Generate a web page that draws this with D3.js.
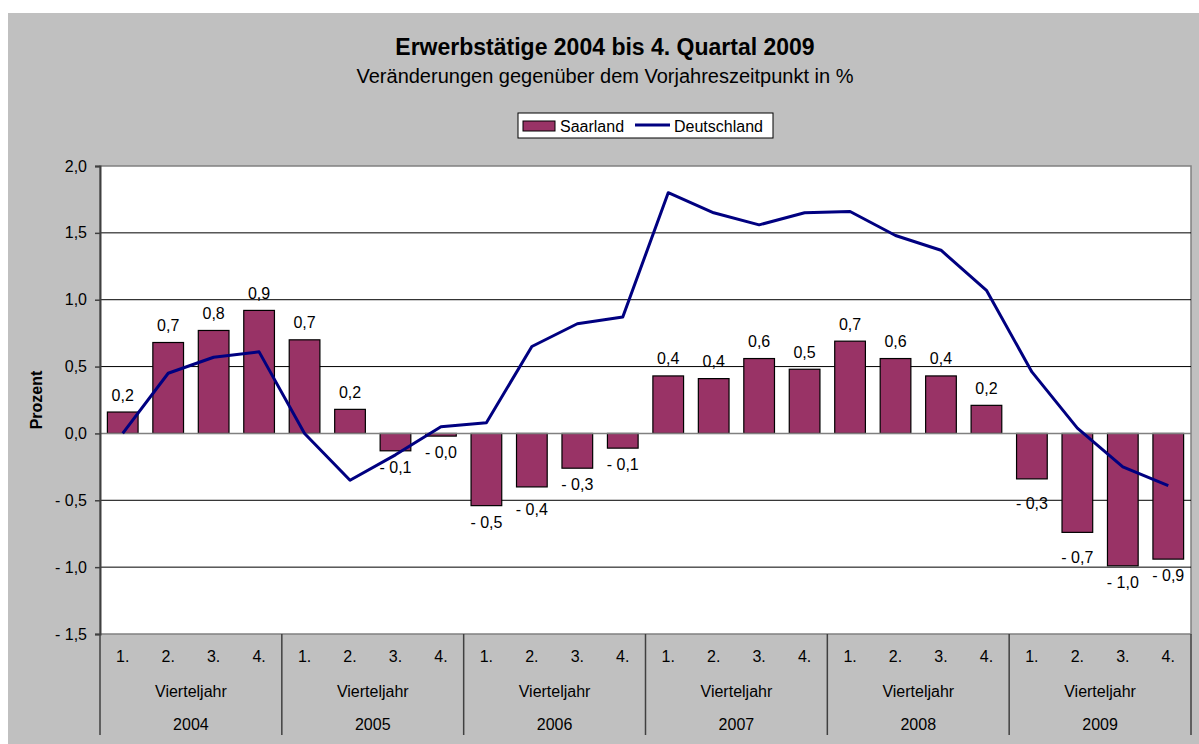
<!DOCTYPE html>
<html>
<head>
<meta charset="utf-8">
<script src="https://cdn.jsdelivr.net/npm/d3@7"></script>
<style>
  body { margin: 0; background: #ffffff; }
  svg { display: block; }
  text { font-family: "Liberation Sans", Arial, sans-serif; fill: #000; }
</style>
</head>
<body>
<svg id="chart" width="1199" height="744"></svg>
<script>
// ---- data ----
const years = ["2004", "2005", "2006", "2007", "2008", "2009"];
const quarters = ["1.", "2.", "3.", "4."];
const quarterGroupLabel = "Vierteljahr";
const saarland = [0.16, 0.68, 0.77, 0.92, 0.70, 0.18, -0.13, -0.02,
                  -0.54, -0.40, -0.26, -0.11, 0.43, 0.41, 0.56, 0.48,
                  0.69, 0.56, 0.43, 0.21, -0.34, -0.74, -0.99, -0.94];
const deutschland = [0.00, 0.45, 0.57, 0.61, 0.00, -0.35, -0.16, 0.05,
                     0.08, 0.65, 0.82, 0.87, 1.80, 1.65, 1.56, 1.65,
                     1.66, 1.48, 1.37, 1.07, 0.46, 0.04, -0.25, -0.39];
const yTicks = [-1.5, -1.0, -0.5, 0.0, 0.5, 1.0, 1.5, 2.0];
const seriesNames = ["Saarland", "Deutschland"];
const title = "Erwerbstätige 2004 bis 4. Quartal 2009";
const subtitle = "Veränderungen gegenüber dem Vorjahreszeitpunkt in %";
const yTitle = "Prozent";

// ---- layout ----
const W = 1199, H = 744;
const plot = { left: 100, right: 1191, top: 166, bottom: 634 };
const barColor = "#993366";
const lineColor = "#000080";
const fmt = v => (v < 0 && Math.abs(v) >= 0 ? "- " : "") + Math.abs(v).toFixed(1).replace(".", ",");
const fmtTick = v => (v < 0 ? "- " : "") + Math.abs(v).toFixed(1).replace(".", ",");

const svg = d3.select("#chart");

// chart area background
svg.append("rect").attr("x", 8).attr("y", 13).attr("width", W - 8).attr("height", H - 13)
  .attr("fill", "#c0c0c0");

const idx = d3.range(saarland.length);
const x = d3.scaleBand().domain(idx).range([plot.left, plot.right])
  .paddingInner(0.325).paddingOuter(0.1625);
const xYear = d3.scaleBand().domain(years).range([plot.left, plot.right]);
const y = d3.scaleLinear().domain([-1.5, 2.0]).range([plot.bottom, plot.top]);

// plot area
svg.append("rect").attr("x", plot.left).attr("y", plot.top)
  .attr("width", plot.right - plot.left).attr("height", plot.bottom - plot.top)
  .attr("fill", "#ffffff").attr("stroke", "#808080").attr("stroke-width", 1.5);

// gridlines
svg.append("g").selectAll("line")
  .data(yTicks.filter(t => t !== 0 && t !== -1.5 && t !== 2.0))
  .join("line")
  .attr("x1", plot.left).attr("x2", plot.right)
  .attr("y1", d => y(d)).attr("y2", d => y(d))
  .attr("stroke", "#000").attr("stroke-width", 1);

// bars
svg.append("g").selectAll("rect").data(saarland).join("rect")
  .attr("x", (d, i) => x(i))
  .attr("width", x.bandwidth())
  .attr("y", d => y(Math.max(0, d)))
  .attr("height", d => Math.abs(y(d) - y(0)))
  .attr("fill", barColor).attr("stroke", "#000").attr("stroke-width", 1.2);

// zero line
svg.append("line").attr("x1", plot.left).attr("x2", plot.right)
  .attr("y1", y(0)).attr("y2", y(0)).attr("stroke", "#808080").attr("stroke-width", 1.5);

// line series
const line = d3.line().x((d, i) => x(i) + x.bandwidth() / 2).y(d => y(d));
svg.append("path").datum(deutschland).attr("d", line)
  .attr("fill", "none").attr("stroke", lineColor).attr("stroke-width", 3)
  .attr("stroke-linejoin", "round");

// bar labels
const extraDrop = { 9: 6, 20: 8, 21: 9 };
svg.append("g").selectAll("text").data(saarland).join("text")
  .attr("x", (d, i) => x(i) + x.bandwidth() / 2)
  .attr("y", (d, i) => d >= 0 ? y(d) - 11.5 : y(d) + 22 + (extraDrop[i] || 0))
  .attr("text-anchor", "middle").attr("font-size", 16)
  .text(d => fmt(d));

// y axis
const yAxis = d3.axisLeft(y).tickValues(yTicks).tickSize(5).tickPadding(8).tickFormat(fmtTick);
const yg = svg.append("g").attr("transform", `translate(${plot.left},0)`).call(yAxis);
yg.select(".domain").attr("stroke", "#404040").attr("stroke-width", 2);
yg.selectAll(".tick line").attr("stroke", "#404040").attr("stroke-width", 1.5);
yg.selectAll(".tick text").attr("font-size", 16).attr("font-family", "Liberation Sans, Arial, sans-serif").attr("fill", "#000");

// y title
svg.append("text").attr("transform", "translate(42,400) rotate(-90)")
  .attr("text-anchor", "middle").attr("font-size", 16).attr("font-weight", "bold")
  .text(yTitle);

// x axis: quarters
const xAxis = d3.axisBottom(x).tickSize(0).tickPadding(0)
  .tickFormat(i => quarters[i % quarters.length]);
const xg = svg.append("g").attr("transform", `translate(0,${plot.bottom})`).call(xAxis);
xg.select(".domain").remove();
xg.selectAll(".tick text").attr("font-size", 16).attr("font-family", "Liberation Sans, Arial, sans-serif")
  .attr("fill", "#000").attr("dy", null).attr("y", 28);

// group labels and years
const yearG = svg.append("g");
yearG.selectAll("text.vj").data(years).join("text").attr("class", "vj")
  .attr("x", d => xYear(d) + xYear.bandwidth() / 2).attr("y", 697)
  .attr("text-anchor", "middle").attr("font-size", 16).text(quarterGroupLabel);
yearG.selectAll("text.yr").data(years).join("text").attr("class", "yr")
  .attr("x", d => xYear(d) + xYear.bandwidth() / 2).attr("y", 730)
  .attr("text-anchor", "middle").attr("font-size", 16).text(d => d);
const seps = years.map(d => xYear(d)).concat([plot.right]);
yearG.selectAll("line").data(seps).join("line")
  .attr("x1", d => d).attr("x2", d => d).attr("y1", plot.bottom).attr("y2", 735)
  .attr("stroke", "#404040").attr("stroke-width", 1.5);

// titles
svg.append("text").attr("x", 605).attr("y", 55).attr("text-anchor", "middle")
  .attr("font-size", 23).attr("font-weight", "bold").text(title);
svg.append("text").attr("x", 605).attr("y", 83).attr("text-anchor", "middle")
  .attr("font-size", 20).text(subtitle);

// legend
const lg = svg.append("g");
lg.append("rect").attr("x", 518).attr("y", 113).attr("width", 255).attr("height", 25)
  .attr("fill", "#fff").attr("stroke", "#000").attr("stroke-width", 1);
lg.append("rect").attr("x", 523).attr("y", 121).attr("width", 32).attr("height", 10)
  .attr("fill", barColor).attr("stroke", "#000").attr("stroke-width", 1);
lg.append("text").attr("x", 560).attr("y", 131.5).attr("font-size", 16).text(seriesNames[0]);
lg.append("line").attr("x1", 635).attr("x2", 670).attr("y1", 125).attr("y2", 125)
  .attr("stroke", lineColor).attr("stroke-width", 3);
lg.append("text").attr("x", 674).attr("y", 131.5).attr("font-size", 16).text(seriesNames[1]);
</script>
</body>
</html>
